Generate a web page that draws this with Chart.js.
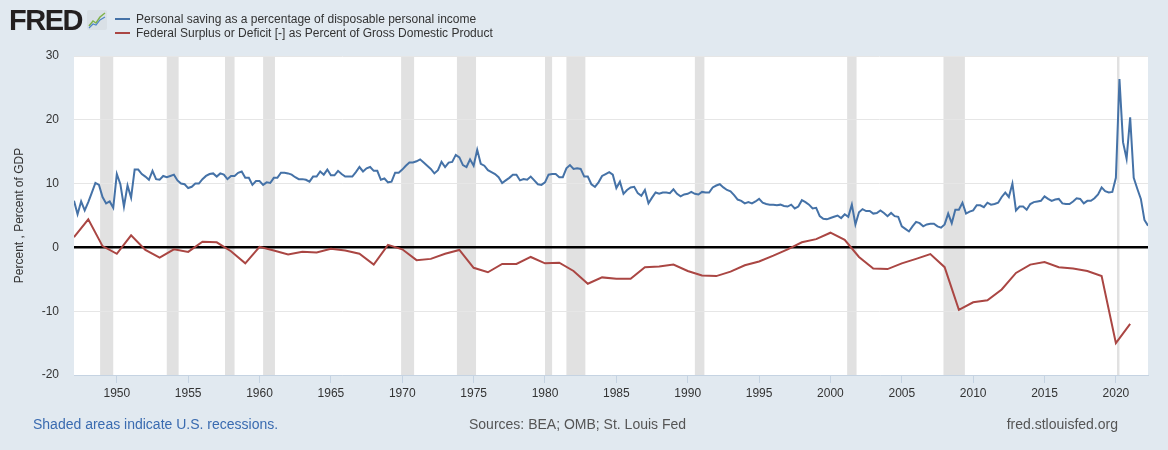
<!DOCTYPE html>
<html>
<head>
<meta charset="utf-8">
<script src="https://cdn.jsdelivr.net/npm/chart.js@4"></script>
<style>
  body { margin: 0; background: #e1e9f0; }
  #wrap { position: relative; width: 1168px; height: 450px; background: #e1e9f0; font-family: "Liberation Sans", Arial, sans-serif; }
  #chart { position: absolute; left: 0; top: 0; }
  .logo { position: absolute; left: 9px; top: 4px; font-weight: bold; font-size: 29px; letter-spacing: -1.5px; color: #231f20; }
  .icon { position: absolute; left: 87px; top: 10px; }
  .legend { position: absolute; left: 115px; font-size: 12px; color: #333; white-space: nowrap; }
  .legend span { display: inline-block; width: 15px; height: 2px; vertical-align: middle; margin-right: 6px; position: relative; top: -1px; }
  .foot { position: absolute; top: 416px; font-size: 14px; white-space: nowrap; }
</style>
</head>
<body>
<div id="wrap">
  <canvas id="chart" width="1168" height="450"></canvas>
  <div class="logo">FRED</div>
  <svg class="icon" width="20" height="20" viewBox="0 0 20 20">
    <rect x="0" y="0" width="20" height="20" rx="2" fill="#d9e0e6"/>
    <polyline points="2,16 6,11 9,13 13,7 18,3" fill="none" stroke="#7fb24a" stroke-width="1.5"/>
    <polyline points="2,18 6,14 9,15 13,10 18,7" fill="none" stroke="#4f86c6" stroke-width="1.2"/>
  </svg>
  <div class="legend" style="top:12px"><span style="background:#4572a7"></span>Personal saving as a percentage of disposable personal income</div>
  <div class="legend" style="top:26px"><span style="background:#aa4643"></span>Federal Surplus or Deficit [-] as Percent of Gross Domestic Product</div>
  <div class="foot" style="left:33px;color:#3a6bb0">Shaded areas indicate U.S. recessions.</div>
  <div class="foot" style="left:469px;color:#555">Sources: BEA; OMB; St. Louis Fed</div>
  <div class="foot" style="right:50px;color:#555">fred.stlouisfed.org</div>
</div>
<script>
// Personal saving rate, quarterly, first value is 1947 Q1
const savingStart = 1947;
const savingRate = [
  7.3, 5.2, 7.2, 5.8,     // 1947
  7.1, 8.6, 10.1, 9.8,    // 1948
  7.9, 6.9, 7.2, 6.2,     // 1949
  11.5, 9.9, 6.4, 9.7,    // 1950
  7.8, 12.2, 12.2, 11.5,  // 1951
  11.1, 10.6, 12.0, 10.7, // 1952
  10.6, 11.2, 11.0, 11.2, // 1953
  11.4, 10.5, 10.0, 9.9,  // 1954
  9.3, 9.5, 10.0, 10.0,   // 1955
  10.7, 11.2, 11.5, 11.6, // 1956
  11.1, 11.6, 11.4, 10.7, // 1957
  11.2, 11.2, 11.7, 11.9, // 1958
  10.9, 10.9, 9.8, 10.4,  // 1959
  10.4, 9.8, 10.2, 10.1,  // 1960
  10.9, 10.9, 11.7, 11.7, // 1961
  11.6, 11.4, 11.0, 10.7, // 1962
  10.7, 10.6, 10.3, 11.1, // 1963
  11.1, 11.9, 11.4, 12.2, // 1964
  11.3, 11.3, 12.0, 11.5, // 1965
  11.1, 11.1, 11.1, 11.8, // 1966
  12.6, 11.9, 12.4, 12.6, // 1967
  12.0, 12.0, 10.6, 10.8, // 1968
  10.2, 10.3, 11.7, 11.7, // 1969
  12.2, 12.8, 13.3, 13.3, // 1970
  13.5, 13.8, 13.3, 12.8, // 1971
  12.3, 11.6, 12.1, 13.4, // 1972
  12.6, 13.3, 13.4, 14.5, // 1973
  14.1, 12.9, 12.6, 13.8, // 1974
  12.8, 15.3, 13.1, 12.8, // 1975
  12.1, 11.8, 11.5, 11.0, // 1976
  10.1, 10.5, 10.9, 11.4, // 1977
  11.4, 10.5, 10.7, 10.6, // 1978
  11.1, 10.5, 9.9, 9.8,   // 1979
  10.2, 11.4, 11.5, 11.5, // 1980
  11.0, 11.0, 12.4, 12.9, // 1981
  12.3, 12.4, 12.3, 11.1, // 1982
  11.1, 9.9, 9.5, 10.2,   // 1983
  11.2, 11.5, 11.8, 11.4, // 1984
  9.3, 10.3, 8.4, 9.0,    // 1985
  9.4, 9.5, 8.5, 8.1,     // 1986
  9.0, 6.9, 7.8, 8.6,     // 1987
  8.4, 8.6, 8.6, 8.5,     // 1988
  9.1, 8.4, 8.0, 8.3,     // 1989
  8.4, 8.7, 8.4, 8.3,     // 1990
  8.7, 8.6, 8.6, 9.4,     // 1991
  9.7, 9.9, 9.4, 9.0,     // 1992
  8.8, 8.2, 7.5, 7.3,     // 1993
  6.9, 7.1, 6.9, 7.2,     // 1994
  7.6, 7.0, 6.8, 6.7,     // 1995
  6.7, 6.6, 6.7, 6.5,     // 1996
  6.4, 6.7, 6.1, 6.4,     // 1997
  7.4, 7.1, 6.7, 6.1,     // 1998
  6.2, 4.9, 4.5, 4.4,     // 1999
  4.6, 4.8, 5.0, 4.6,     // 2000
  5.2, 4.8, 6.7, 3.6,     // 2001
  5.5, 6.0, 5.7, 5.7,     // 2002
  5.3, 5.4, 5.8, 5.4,     // 2003
  4.9, 5.4, 4.9, 4.8,     // 2004
  3.3, 2.9, 2.5, 3.3,     // 2005
  4.0, 3.8, 3.3, 3.6,     // 2006
  3.7, 3.7, 3.3, 3.1,     // 2007
  3.6, 5.3, 3.8, 5.9,     // 2008
  5.9, 7.0, 5.3, 5.6,     // 2009
  5.8, 6.6, 6.6, 6.3,     // 2010
  7.0, 6.7, 6.8, 7.0,     // 2011
  7.9, 8.6, 7.9, 10.0,    // 2012
  5.8, 6.4, 6.4, 5.9,     // 2013
  6.8, 7.1, 7.2, 7.3,     // 2014
  8.0, 7.6, 7.3, 7.5,     // 2015
  7.6, 6.9, 6.8, 6.8,     // 2016
  7.2, 7.7, 7.6, 6.9,     // 2017
  7.3, 7.3, 7.7, 8.3,     // 2018
  9.4, 8.8, 8.6, 8.7,     // 2019
  10.9, 26.4, 16.5, 13.9, // 2020
  20.4, 10.9, 9.2, 7.6,   // 2021
  4.3, 3.4                // 2022
];

// Federal surplus or deficit, % of GDP, annual
const deficitYears = [
  1947, 1948, 1949, 1950, 1951, 1952, 1953, 1954, 1955, 1956,
  1957, 1958, 1959, 1960, 1961, 1962, 1963, 1964, 1965, 1966,
  1967, 1968, 1969, 1970, 1971, 1972, 1973, 1974, 1975, 1976,
  1977, 1978, 1979, 1980, 1981, 1982, 1983, 1984, 1985, 1986,
  1987, 1988, 1989, 1990, 1991, 1992, 1993, 1994, 1995, 1996,
  1997, 1998, 1999, 2000, 2001, 2002, 2003, 2004, 2005, 2006,
  2007, 2008, 2009, 2010, 2011, 2012, 2013, 2014, 2015, 2016,
  2017, 2018, 2019, 2020, 2021
];
const deficitPct = [
  1.6, 4.4, 0.2, -1.0, 1.9, -0.4, -1.6, -0.3, -0.7, 0.9,
  0.8, -0.6, -2.5, 0.1, -0.5, -1.1, -0.7, -0.8, -0.2, -0.5,
  -1.0, -2.7, 0.4, -0.3, -2.0, -1.8, -1.0, -0.4, -3.2, -3.9,
  -2.6, -2.6, -1.5, -2.5, -2.4, -3.7, -5.7, -4.7, -4.9, -4.9,
  -3.1, -3.0, -2.7, -3.7, -4.4, -4.5, -3.8, -2.8, -2.2, -1.3,
  -0.3, 0.8, 1.3, 2.3, 1.2, -1.5, -3.3, -3.4, -2.5, -1.8,
  -1.05, -3.1, -9.8, -8.6, -8.3, -6.6, -4.0, -2.7, -2.3, -3.1,
  -3.3, -3.7, -4.5, -15.0, -12.0
];

// US recessions (peak month to trough month, decimal years)
const recessions = [
  [1948.83, 1949.75], [1953.5, 1954.33], [1957.58, 1958.25], [1960.25, 1961.08],
  [1969.92, 1970.83], [1973.83, 1975.17], [1980.0, 1980.5], [1981.5, 1982.83],
  [1990.5, 1991.17], [2001.17, 2001.83], [2007.92, 2009.42], [2020.08, 2020.25]
];

const xTicks = [1950, 1955, 1960, 1965, 1970, 1975, 1980, 1985, 1990, 1995, 2000, 2005, 2010, 2015, 2020];

const FONT = '"Liberation Sans", Arial, sans-serif';

const savingPoints = savingRate.map((v, i) => ({ x: savingStart + i * 0.25, y: v }));
const deficitPoints = deficitYears.map((yr, i) => ({ x: yr, y: deficitPct[i] }));

// white plot area + recession shading
const backdrop = {
  id: "backdrop",
  beforeDraw(chart) {
    const { ctx, chartArea: a, scales: { x } } = chart;
    ctx.save();
    ctx.fillStyle = "#ffffff";
    ctx.fillRect(a.left, a.top, a.right - a.left, a.bottom - a.top);
    ctx.fillStyle = "#e1e1e1";
    recessions.forEach(([s, e]) => {
      const x1 = x.getPixelForValue(s);
      const x2 = x.getPixelForValue(e);
      ctx.fillRect(x1, a.top, x2 - x1, a.bottom - a.top);
    });
    ctx.restore();
  }
};

new Chart(document.getElementById("chart"), {
  type: "line",
  data: {
    datasets: [
      {
        label: "Personal saving as a percentage of disposable personal income",
        data: savingPoints,
        borderColor: "#4572a7",
        borderWidth: 2,
        pointRadius: 0,
        tension: 0
      },
      {
        label: "Federal Surplus or Deficit [-] as Percent of Gross Domestic Product",
        data: deficitPoints,
        borderColor: "#aa4643",
        borderWidth: 2,
        pointRadius: 0,
        tension: 0
      }
    ]
  },
  options: {
    responsive: false,
    animation: false,
    layout: { padding: { left: 0, top: 56, right: 20, bottom: 0 } },
    plugins: { legend: { display: false }, tooltip: { enabled: false } },
    scales: {
      x: {
        type: "linear",
        min: 1947,
        max: 2022.25,
        afterBuildTicks: (s) => { s.ticks = xTicks.map((v) => ({ value: v })); },
        afterFit: (s) => { s.height = 75; },
        grid: { drawOnChartArea: false, tickLength: 8, color: "#c5d3e2" },
        border: { color: "#c5d3e2" },
        ticks: {
          padding: 3, maxRotation: 0, autoSkip: false, color: "#333",
          font: { family: FONT, size: 12 },
          callback: (v) => String(v)
        }
      },
      y: {
        min: -20,
        max: 30,
        afterFit: (s) => { s.width = 74; },
        grid: {
          drawTicks: false,
          color: (c) => (c.tick && c.tick.value === 0 ? "#000000" : "#e6e6e6"),
          lineWidth: (c) => (c.tick && c.tick.value === 0 ? 2.5 : 1)
        },
        border: { display: false },
        ticks: { stepSize: 10, padding: 15, color: "#333", font: { family: FONT, size: 12 } },
        title: {
          display: true,
          text: "Percent , Percent of GDP",
          color: "#333",
          font: { family: FONT, size: 12 },
          padding: { top: 12, bottom: 0 }
        }
      }
    }
  },
  plugins: [backdrop]
});
</script>
</body>
</html>
